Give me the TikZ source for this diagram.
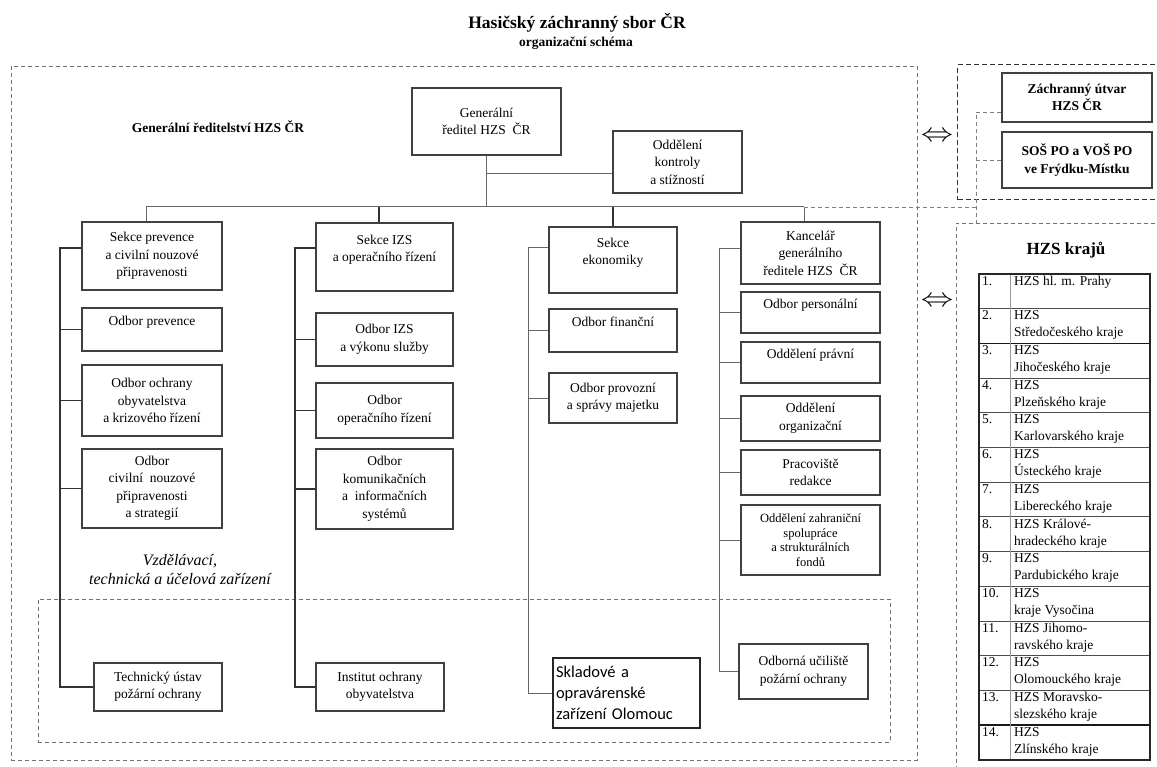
\documentclass[tikz,border=0pt]{standalone}
\usepackage{fontspec}
\setmainfont{Liberation Serif}
\newfontfamily\sklfont{Carlito}
\usepackage{tikz}

\begin{document}
\begin{tikzpicture}[x=1pt,y=-1pt,
    box/.style={draw=black!75,line width=1.1pt,align=center,inner sep=1pt,font=\fontsize{13.5}{17.5}\selectfont},
    conn/.style={draw=black!60,line width=1pt},
    spine/.style={draw=black!80,line width=1.3pt},
    frame/.style={draw=black!55,line width=0.8pt,dash pattern=on 4pt off 3pt,anchor=north west,inner sep=0pt},
    link/.style={draw=black!50,line width=0.8pt,dash pattern=on 4pt off 3pt},
    cell/.style={anchor=north west,inner sep=1pt,align=left,font=\fontsize{13.5}{17}\selectfont},
    dbl/.style={inner sep=0pt,font=\fontsize{26}{26}\selectfont},
  ]
  \useasboundingbox (0,0) rectangle (1157,767);

  \node[font=\bfseries\fontsize{17.5}{20}\selectfont] (title) at (577,23) {Hasičský záchranný sbor ČR};
  \node[font=\bfseries\fontsize{13.5}{16}\selectfont] (subtitle) at (576,43) {organizační schéma};

  \node[frame,minimum width=906pt,minimum height=694pt] (hq) at (11,66) {};
  \node[frame,minimum width=852pt,minimum height=143pt] (zarizeni) at (38,599) {};
  \node[frame,draw=black!80,line width=1.3pt,dash pattern=on 5pt off 3pt,minimum width=215pt,minimum height=135pt] (utvary) at (957,64) {};
  \node[frame,minimum width=215pt,minimum height=560pt] (kraje) at (956,223) {};

  \node[font=\bfseries\fontsize{13.5}{16}\selectfont] (hqLabel) at (218,127) {Generální ředitelství HZS ČR};
  \node[font=\itshape\fontsize{16}{19}\selectfont,align=center] (vzdel) at (180,570) {Vzdělávací,\\technická a účelová zařízení};

  \node[box,minimum width=149pt,minimum height=67pt] (gr) at (486.5,121.5) {Generální\\ředitel HZS\ \ ČR};
  \node[box,minimum width=129pt,minimum height=62pt] (kontrola) at (677.5,162) {Oddělení\\kontroly\\a stížností};

  \node[box,minimum width=140pt,minimum height=68pt] (sekcePrev) at (152,256) {Sekce prevence\\a civilní nouzové\\připravenosti};
  \node[box,minimum width=140pt,minimum height=43pt] (odbPrev) at (152,329.5) {Odbor prevence\\~};
  \node[box,minimum width=140pt,minimum height=71pt] (odbOchr) at (152,400.5) {Odbor ochrany\\obyvatelstva\\a krizového řízení};
  \node[box,minimum width=140pt,minimum height=79pt] (odbCiv) at (152,488.5) {Odbor\\civilní\ \ nouzové\\připravenosti\\a strategií};
  \node[box,minimum width=128pt,minimum height=48pt] (techUstav) at (158,687) {Technický ústav\\požární ochrany};

  \node[box,minimum width=137pt,minimum height=68pt] (sekceIZS) at (384.5,257) {Sekce IZS\\a operačního řízení\\~};
  \node[box,minimum width=137pt,minimum height=53pt] (odbIZS) at (384.5,339.5) {Odbor IZS\\a výkonu služby};
  \node[box,minimum width=137pt,minimum height=55pt] (odbOper) at (384.5,410.5) {Odbor\\operačního řízení};
  \node[box,minimum width=137pt,minimum height=80pt] (odbKom) at (384.5,489) {Odbor\\komunikačních\\a\ \ informačních\\systémů};
  \node[box,minimum width=128pt,minimum height=48pt] (institut) at (380,687) {Institut ochrany\\obyvatelstva};

  \node[box,minimum width=128pt,minimum height=66pt] (sekceEko) at (613,260) {Sekce\\ekonomiky\\~};
  \node[box,minimum width=128pt,minimum height=43pt] (odbFin) at (613,330.5) {Odbor finanční\\~};
  \node[box,minimum width=128pt,minimum height=50pt] (odbProv) at (613,398) {Odbor provozní\\a správy majetku};
  \node[box,line width=1.6pt,draw=black!85,text width=141pt,inner sep=3pt,align=left,minimum height=70pt,font=\sklfont\fontsize{16.5}{21}\selectfont] (sklad) at (626.5,693) {Skladové a\\opravárenské\\zařízení Olomouc};

  \node[box,minimum width=139pt,minimum height=62pt] (kancelar) at (810.5,253) {Kancelář\\generálního\\ředitele HZS\ \ ČR};
  \node[box,minimum width=139pt,minimum height=41pt] (odbPers) at (810.5,312.5) {Odbor personální\\~};
  \node[box,minimum width=139pt,minimum height=41pt] (oddPravni) at (810.5,362.5) {Oddělení právní\\~};
  \node[box,minimum width=139pt,minimum height=45pt] (oddOrg) at (810.5,418.5) {Oddělení\\organizační};
  \node[box,minimum width=139pt,minimum height=45pt] (pracoviste) at (810.5,472.5) {Pracoviště\\redakce};
  \node[box,minimum width=139pt,minimum height=70pt,font=\fontsize{12.5}{14.5}\selectfont] (oddZahr) at (810.5,540) {Oddělení zahraniční\\spolupráce\\a strukturálních\\fondů};
  \node[box,minimum width=129pt,minimum height=55pt] (ucitiste) at (803.5,671.5) {Odborná učiliště\\požární ochrany};

  \node[box,font=\bfseries\fontsize{13.5}{17.5}\selectfont,minimum width=150pt,minimum height=49pt] (zachranny) at (1077,97.5) {Záchranný útvar\\HZS ČR};
  \node[box,font=\bfseries\fontsize{13.5}{17.5}\selectfont,minimum width=150pt,minimum height=56pt] (sos) at (1077,160) {SOŠ PO a VOŠ PO\\ve Frýdku-Místku};

  \node[dbl] (dblA) at (937,137) {\scalebox{1.3}[1.05]{$\Leftrightarrow$}};
  \node[dbl] (dblB) at (937,302) {\scalebox{1.3}[1.05]{$\Leftrightarrow$}};

  \node[font=\bfseries\fontsize{17}{20}\selectfont] (krajeTitle) at (1066,250) {HZS krajů};

  \coordinate (busL) at (146,207);
  \coordinate (d2) at (379,207);
  \coordinate (d3) at (613,207);
  \coordinate (busR) at (804,207);
  \draw[conn] (busL) -- (busR);
  \draw[conn] (gr) -- (gr |- busL);
  \draw[conn] (gr |- kontrola.190) -- (kontrola.190);
  \draw[conn] (busL) -- (busL |- sekcePrev.north);
  \draw[spine] (d2) -- (d2 |- sekceIZS.north);
  \draw[spine] (d3) -- (d3 |- sekceEko.north);
  \draw[conn] (busR) -- (busR |- kancelar.north);

  \coordinate (c1) at (60,248);
  \draw[spine] (sekcePrev.west |- c1) -- (c1) |- (techUstav);
  \draw[spine] (c1 |- odbPrev) -- (odbPrev);
  \draw[spine] (c1 |- odbOchr) -- (odbOchr);
  \draw[spine] (c1 |- odbCiv) -- (odbCiv);

  \coordinate (c2) at (295,248);
  \draw[spine] (sekceIZS.west |- c2) -- (c2) |- (institut);
  \draw[spine] (c2 |- odbIZS) -- (odbIZS);
  \draw[spine] (c2 |- odbOper) -- (odbOper);
  \draw[spine] (c2 |- odbKom) -- (odbKom);

  \coordinate (c3) at (528,248);
  \draw[conn] (sekceEko.west |- c3) -- (c3) |- (sklad);
  \draw[conn] (c3 |- odbFin) -- (odbFin);
  \draw[conn] (c3 |- odbProv) -- (odbProv);

  \coordinate (c4) at (719,249);
  \draw[conn] (kancelar.west |- c4) -- (c4) |- (ucitiste);
  \draw[conn] (c4 |- odbPers) -- (odbPers);
  \draw[conn] (c4 |- oddPravni) -- (oddPravni);
  \draw[conn] (c4 |- oddOrg) -- (oddOrg);
  \draw[conn] (c4 |- pracoviste) -- (pracoviste);
  \draw[conn] (c4 |- oddZahr) -- (oddZahr);

  \coordinate (jR) at (976,207);
  \coordinate (jT) at (976,112);
  \draw[link] (busR) -- (jR);
  \draw[link] (zachranny.west |- jT) -- (jT) -- (jT |- kraje.north);
  \draw[link] (jT |- sos) -- (sos);

  \foreach \n/\a/\b [count=\i from 0] in {1/{HZS hl. m. Prahy}/{~}, 2/HZS/{Středočeského kraje}, 3/HZS/{Jihočeského kraje}, 4/HZS/{Plzeňského kraje}, 5/HZS/{Karlovarského kraje}, 6/HZS/{Ústeckého kraje}, 7/HZS/{Libereckého kraje}, 8/{HZS Králové-}/{hradeckého kraje}, 9/HZS/{Pardubického kraje}, 10/HZS/{kraje Vysočina}, 11/{HZS Jihomo-}/{ravského kraje}, 12/HZS/{Olomouckého kraje}, 13/{HZS Moravsko-}/{slezského kraje}, 14/HZS/{Zlínského kraje}} {
    \node[cell] (num-\n) at (981,{275+34.7*\i}) {\n.};
    \node[cell] (reg-\n) at (1013,{275+34.7*\i}) {\a\\\b};
  }
  \foreach \i in {1,...,13}
    \draw[draw=black!70,line width=0.9pt] (979,{274+34.7*\i}) -- (1150,{274+34.7*\i});
  \draw[black!90,line width=1.4pt] (979,{274+34.7*2}) -- (1150,{274+34.7*2});
  \draw[black!90,line width=1.4pt] (979,{274+34.7*13}) -- (1150,{274+34.7*13});
  \draw[black!40,line width=0.9pt] (1010,274) -- (1010,760);
  \draw[black!85,line width=1.4pt] (979,274) rectangle (1150,760);
\end{tikzpicture}
\end{document}
